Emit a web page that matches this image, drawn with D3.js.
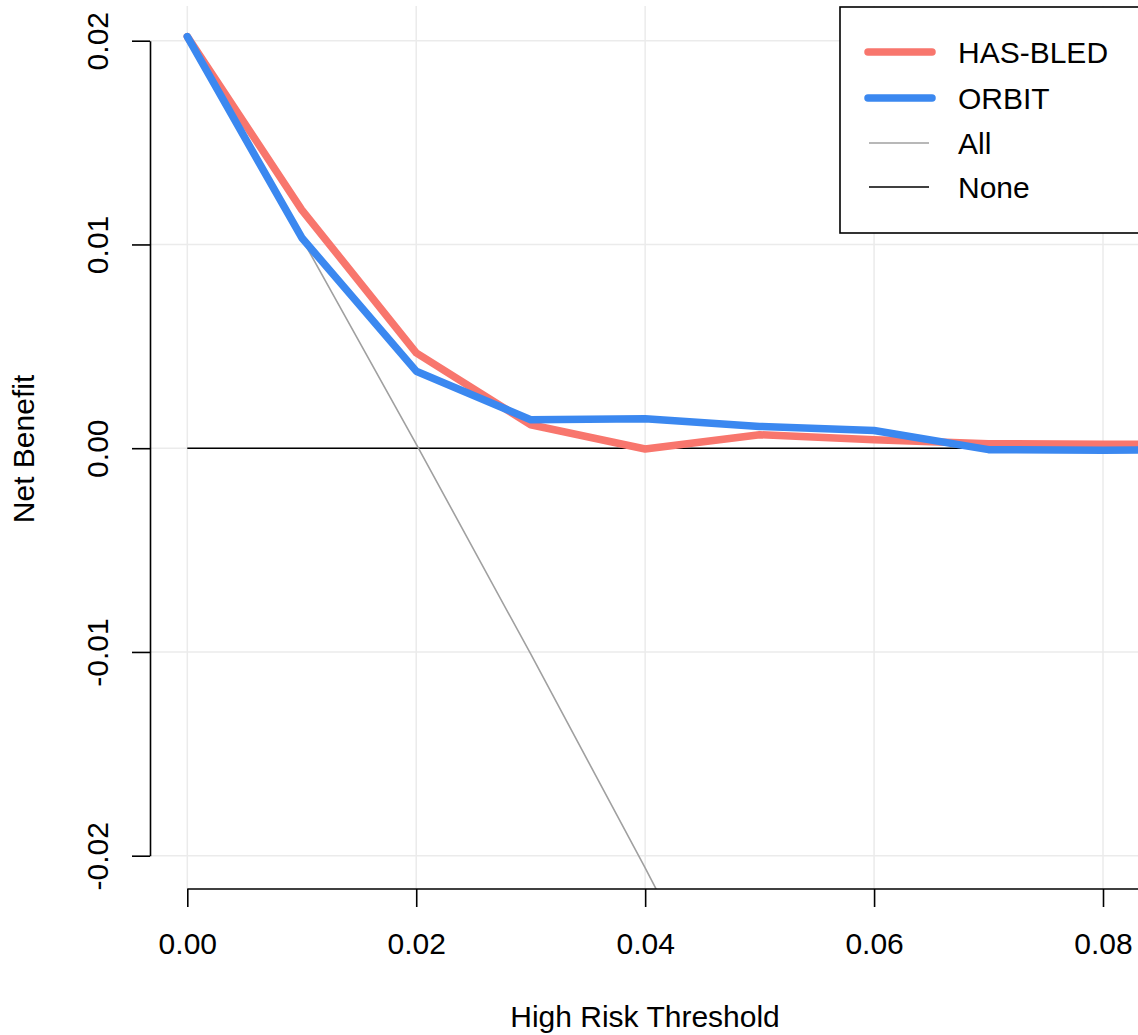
<!DOCTYPE html>
<html>
<head>
<meta charset="utf-8">
<script src="https://cdn.jsdelivr.net/npm/d3@7"></script>
<style>
  html, body { margin: 0; padding: 0; background: #ffffff; }
  svg { display: block; font-family: "Liberation Sans", Arial, Helvetica, sans-serif; }
</style>
</head>
<body>
<svg id="chart" width="1138" height="1035"></svg>
<script>
// Decision curve: net benefit by high-risk threshold
const thresholds = [0.00, 0.01, 0.02, 0.03, 0.04, 0.05, 0.06, 0.07, 0.08, 0.09];
const hasBled    = [0.0202, 0.0117, 0.00468, 0.00115, -0.00004, 0.00066, 0.00042, 0.00022, 0.00020, 0.00020];
const orbit      = [0.0202, 0.01033, 0.00378, 0.00140, 0.00144, 0.00107, 0.00087, -0.00007, -0.00010, -0.00008];
const allThresholds = [0.00, 0.01, 0.02, 0.03, 0.04, 0.05];
const treatAll      = [0.0202, 0.0103, 0.0002, -0.0101, -0.0206, -0.0314];
const xTicks = [0.00, 0.02, 0.04, 0.06, 0.08];
const yTicks = [-0.02, -0.01, 0.00, 0.01, 0.02];

const legendItems = [
  { label: "HAS-BLED", color: "#F8766D", width: 7.5 },
  { label: "ORBIT",    color: "#3B88F0", width: 7.5 },
  { label: "All",      color: "#a0a0a0", width: 1.6 },
  { label: "None",     color: "#000000", width: 1.6 }
];

const svg = d3.select("#chart");
const fontSize = 30;
// plain hyphen for negatives, two decimals
const fmt = d => d.toFixed(2);

// plotting region
const plot = { left: 150, right: 1180, top: 6, bottom: 889 };

const x = d3.scaleLinear().domain([0, 0.08]).range([187.3, 1103]);
const y = d3.scaleLinear().domain([-0.02, 0.02]).range([855.7, 40.7]);

svg.append("defs").append("clipPath").attr("id", "plotClip")
  .append("rect")
  .attr("x", plot.left).attr("y", plot.top)
  .attr("width", plot.right - plot.left).attr("height", plot.bottom - plot.top);

// grid
const grid = svg.append("g").attr("stroke", "#ebebeb").attr("stroke-width", 1.5);
grid.selectAll("line.v").data(xTicks).join("line")
  .attr("x1", d => x(d)).attr("x2", d => x(d))
  .attr("y1", plot.top).attr("y2", plot.bottom);
grid.selectAll("line.h").data(yTicks).join("line")
  .attr("x1", plot.left).attr("x2", plot.right)
  .attr("y1", d => y(d)).attr("y2", d => y(d));

const body = svg.append("g").attr("clip-path", "url(#plotClip)");

// reference lines: treat none and treat all
body.append("line")
  .attr("x1", x(0)).attr("x2", plot.right)
  .attr("y1", y(0)).attr("y2", y(0))
  .attr("stroke", "#000").attr("stroke-width", 1.6);

const line = d3.line().x(d => x(d[0])).y(d => y(d[1]));

body.append("path")
  .attr("d", line(allThresholds.map((t, i) => [t, treatAll[i]])))
  .attr("fill", "none").attr("stroke", "#a0a0a0").attr("stroke-width", 1.6);

// model curves
[[hasBled, legendItems[0]], [orbit, legendItems[1]]].forEach(([vals, item]) => {
  body.append("path")
    .attr("d", line(thresholds.map((t, i) => [t, vals[i]])))
    .attr("fill", "none")
    .attr("stroke", item.color)
    .attr("stroke-width", item.width)
    .attr("stroke-linecap", "round")
    .attr("stroke-linejoin", "round");
});

// x axis (base-graphics style)
const xAxis = d3.axisBottom(x).tickValues(xTicks).tickFormat(fmt)
  .tickSize(18).tickSizeOuter(0).tickPadding(26);
const gx = svg.append("g").attr("transform", `translate(0,${plot.bottom})`).call(xAxis);
gx.select(".domain").attr("d", `M${x(0)},0H${plot.right}`).attr("stroke", "#000").attr("stroke-width", 1.6);
gx.selectAll(".tick line").attr("stroke", "#000").attr("stroke-width", 1.6);
gx.selectAll(".tick text").attr("font-size", fontSize).attr("fill", "#000")
  .attr("font-family", "Liberation Sans, Arial, sans-serif");

// y axis
const yAxis = d3.axisLeft(y).tickValues(yTicks).tickFormat(fmt)
  .tickSize(18).tickSizeOuter(0);
const gy = svg.append("g").attr("transform", `translate(${plot.left},0)`).call(yAxis);
gy.select(".domain").attr("stroke", "#000").attr("stroke-width", 1.6);
gy.selectAll(".tick line").attr("stroke", "#000").attr("stroke-width", 1.6);
gy.selectAll(".tick text")
  .attr("font-size", fontSize).attr("fill", "#000")
  .attr("font-family", "Liberation Sans, Arial, sans-serif")
  .attr("x", null).attr("dy", null)
  .attr("text-anchor", "middle")
  .attr("transform", "translate(-42,0) rotate(-90)");

// axis titles
svg.append("text")
  .attr("x", (plot.left + 1140) / 2).attr("y", 1027)
  .attr("text-anchor", "middle").attr("font-size", fontSize)
  .text("High Risk Threshold");

svg.append("text")
  .attr("transform", `translate(34,${449}) rotate(-90)`)
  .attr("text-anchor", "middle").attr("font-size", fontSize)
  .text("Net Benefit");

// legend
const legend = svg.append("g");
legend.append("rect")
  .attr("x", 840).attr("y", 7).attr("width", 340).attr("height", 226)
  .attr("fill", "#fff").attr("stroke", "#000").attr("stroke-width", 1.6);
const rowY = [52, 98, 143, 187];
legendItems.forEach((item, i) => {
  const thick = item.width > 3;
  legend.append("line")
    .attr("x1", thick ? 868 : 869).attr("x2", thick ? 932 : 929)
    .attr("y1", rowY[i]).attr("y2", rowY[i])
    .attr("stroke", item.color).attr("stroke-width", item.width)
    .attr("stroke-linecap", thick ? "round" : "butt");
  legend.append("text")
    .attr("x", 958).attr("y", rowY[i] + 10.5)
    .attr("font-size", fontSize)
    .text(item.label);
});
</script>
</body>
</html>
